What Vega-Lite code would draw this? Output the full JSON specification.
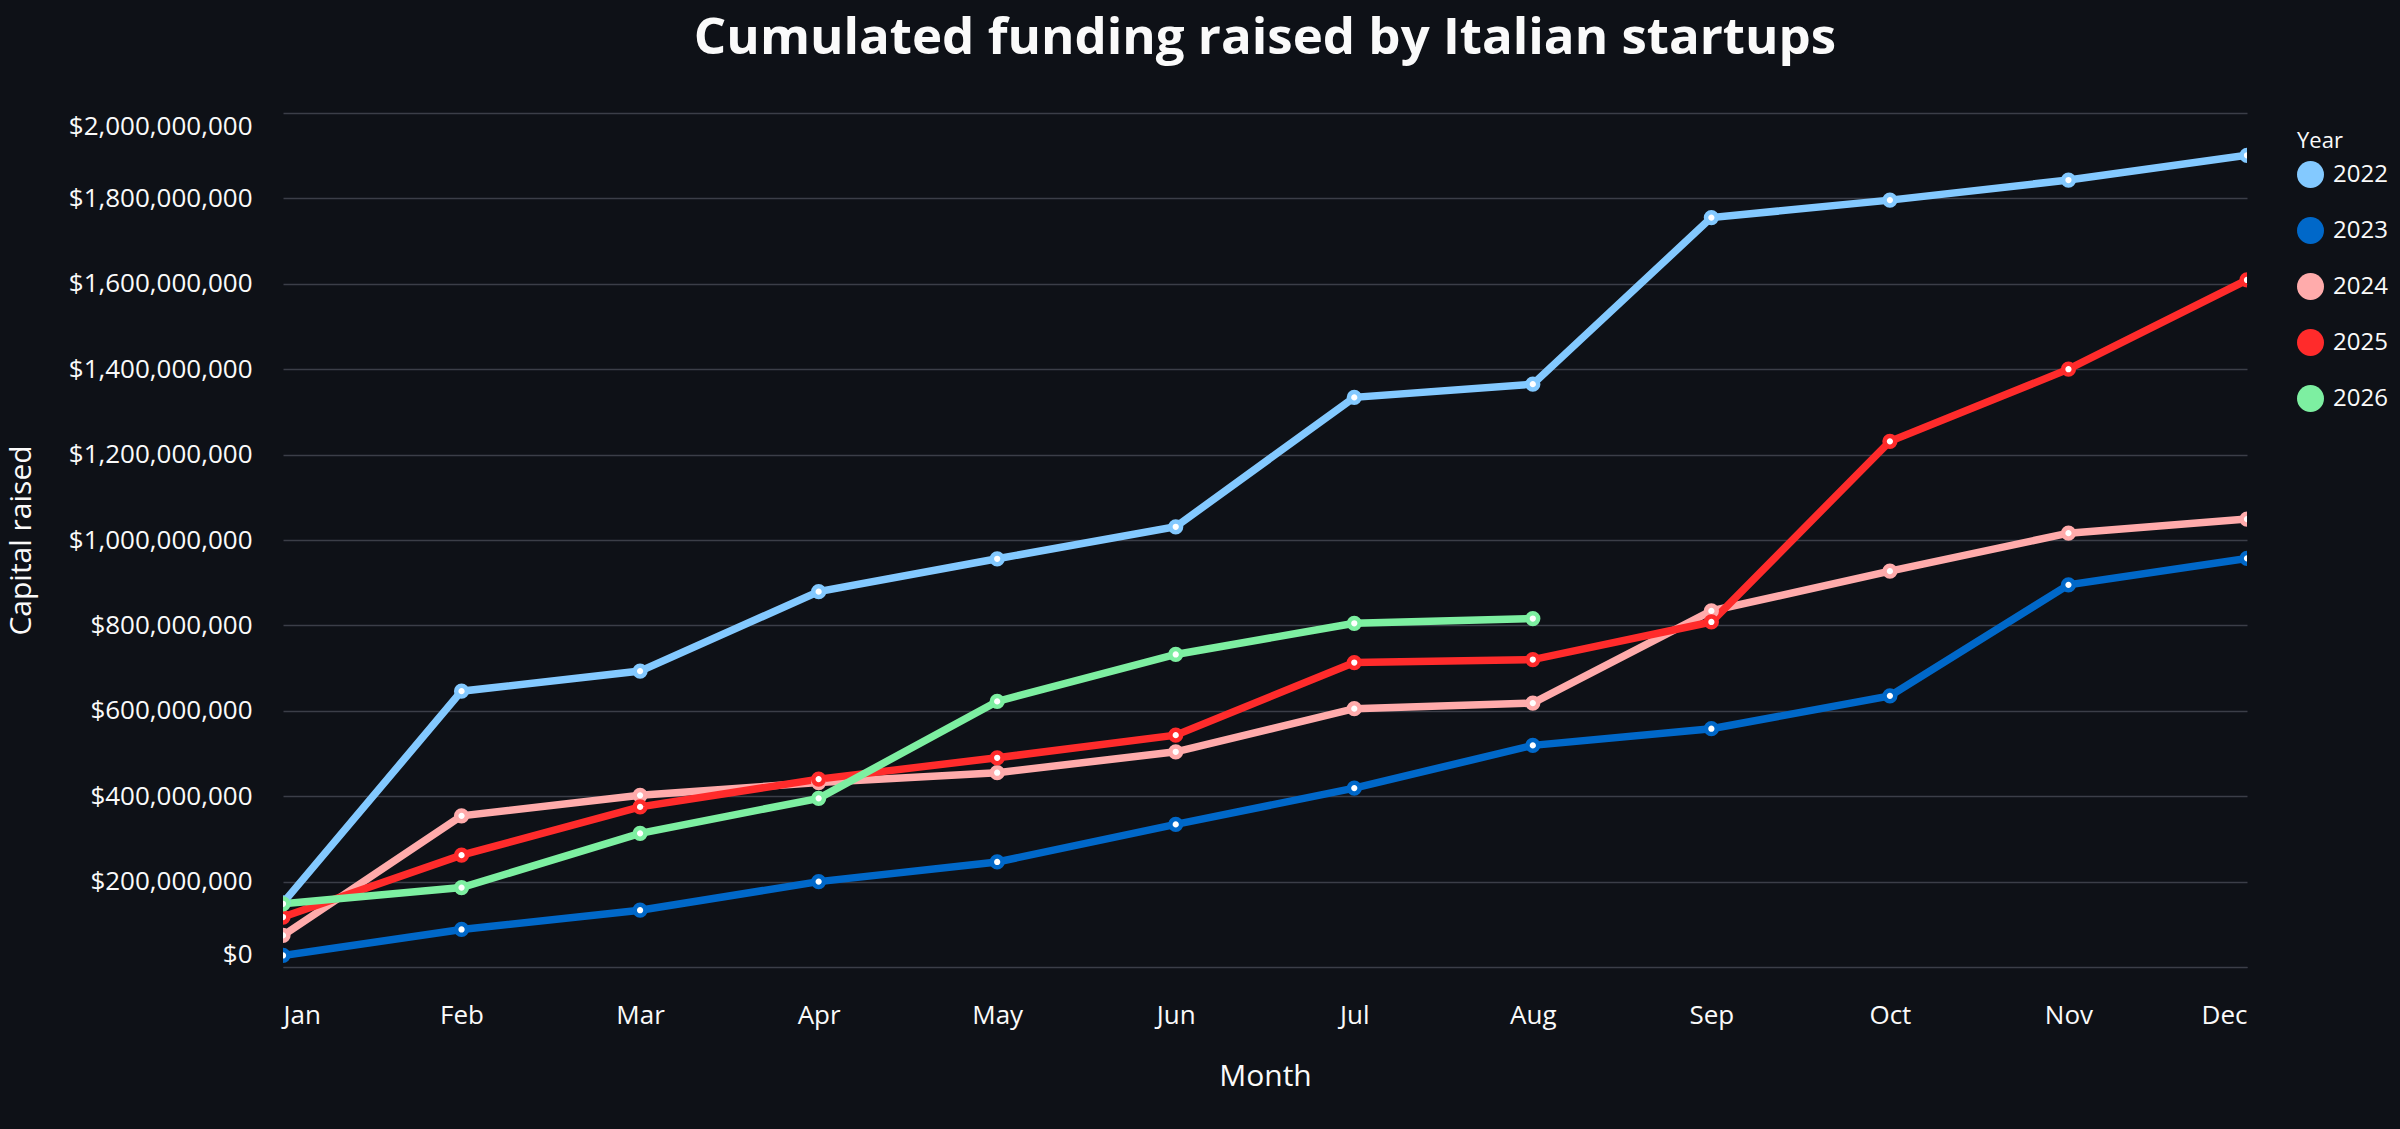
{
  "$schema": "https://vega.github.io/schema/vega-lite/v6.json",
  "autosize": {"type": "none"},
  "padding": {"left": 283, "top": 113, "right": 153, "bottom": 162},
  "width": 1964,
  "height": 854,
  "background": "#0e1117",
  "title": {
    "text": "Cumulated funding raised by Italian startups",
    "font": "Open Sans",
    "fontSize": 51,
    "fontWeight": "bold",
    "color": "#fafafa",
    "anchor": "middle",
    "baseline": "alphabetic",
    "offset": 8
  },
  "data": {
    "values": [
      {"year": "2022", "month": "Jan", "raised": 150000000},
      {"year": "2022", "month": "Feb", "raised": 646000000},
      {"year": "2022", "month": "Mar", "raised": 693000000},
      {"year": "2022", "month": "Apr", "raised": 879000000},
      {"year": "2022", "month": "May", "raised": 956000000},
      {"year": "2022", "month": "Jun", "raised": 1031000000},
      {"year": "2022", "month": "Jul", "raised": 1334000000},
      {"year": "2022", "month": "Aug", "raised": 1365000000},
      {"year": "2022", "month": "Sep", "raised": 1755000000},
      {"year": "2022", "month": "Oct", "raised": 1796000000},
      {"year": "2022", "month": "Nov", "raised": 1843000000},
      {"year": "2022", "month": "Dec", "raised": 1901000000},
      {"year": "2023", "month": "Jan", "raised": 27000000},
      {"year": "2023", "month": "Feb", "raised": 88000000},
      {"year": "2023", "month": "Mar", "raised": 133000000},
      {"year": "2023", "month": "Apr", "raised": 200000000},
      {"year": "2023", "month": "May", "raised": 246000000},
      {"year": "2023", "month": "Jun", "raised": 334000000},
      {"year": "2023", "month": "Jul", "raised": 419000000},
      {"year": "2023", "month": "Aug", "raised": 519000000},
      {"year": "2023", "month": "Sep", "raised": 558000000},
      {"year": "2023", "month": "Oct", "raised": 635000000},
      {"year": "2023", "month": "Nov", "raised": 895000000},
      {"year": "2023", "month": "Dec", "raised": 957000000},
      {"year": "2024", "month": "Jan", "raised": 74000000},
      {"year": "2024", "month": "Feb", "raised": 354000000},
      {"year": "2024", "month": "Mar", "raised": 402000000},
      {"year": "2024", "month": "Apr", "raised": 432000000},
      {"year": "2024", "month": "May", "raised": 455000000},
      {"year": "2024", "month": "Jun", "raised": 504000000},
      {"year": "2024", "month": "Jul", "raised": 605000000},
      {"year": "2024", "month": "Aug", "raised": 618000000},
      {"year": "2024", "month": "Sep", "raised": 834000000},
      {"year": "2024", "month": "Oct", "raised": 927000000},
      {"year": "2024", "month": "Nov", "raised": 1016000000},
      {"year": "2024", "month": "Dec", "raised": 1049000000},
      {"year": "2025", "month": "Jan", "raised": 117000000},
      {"year": "2025", "month": "Feb", "raised": 262000000},
      {"year": "2025", "month": "Mar", "raised": 375000000},
      {"year": "2025", "month": "Apr", "raised": 440000000},
      {"year": "2025", "month": "May", "raised": 490000000},
      {"year": "2025", "month": "Jun", "raised": 543000000},
      {"year": "2025", "month": "Jul", "raised": 713000000},
      {"year": "2025", "month": "Aug", "raised": 720000000},
      {"year": "2025", "month": "Sep", "raised": 808000000},
      {"year": "2025", "month": "Oct", "raised": 1231000000},
      {"year": "2025", "month": "Nov", "raised": 1400000000},
      {"year": "2025", "month": "Dec", "raised": 1609000000},
      {"year": "2026", "month": "Jan", "raised": 148000000},
      {"year": "2026", "month": "Feb", "raised": 186000000},
      {"year": "2026", "month": "Mar", "raised": 313000000},
      {"year": "2026", "month": "Apr", "raised": 395000000},
      {"year": "2026", "month": "May", "raised": 622000000},
      {"year": "2026", "month": "Jun", "raised": 732000000},
      {"year": "2026", "month": "Jul", "raised": 805000000},
      {"year": "2026", "month": "Aug", "raised": 816000000}
    ]
  },
  "encoding": {
    "x": {
      "field": "month",
      "type": "ordinal",
      "sort": ["Jan", "Feb", "Mar", "Apr", "May", "Jun", "Jul", "Aug", "Sep", "Oct", "Nov", "Dec"],
      "scale": {"type": "point", "padding": 0},
      "axis": {
        "title": "Month",
        "labelAngle": 0,
        "labelFlush": true,
        "labelPadding": 35,
        "ticks": false,
        "tickSize": 0,
        "grid": false,
        "domain": true,
        "domainColor": "#3b3e48",
        "titleY": 118,
        "titleBaseline": "alphabetic",
        "titleFontSize": 30
      }
    },
    "y": {
      "field": "raised",
      "type": "quantitative",
      "scale": {"domain": [0, 2000000000]},
      "axis": {
        "title": "Capital raised",
        "format": "$,.0f",
        "tickCount": 10,
        "labelFlush": true,
        "labelPadding": 31,
        "labelLimit": 400,
        "ticks": false,
        "tickSize": 0,
        "domain": false,
        "titleX": -253,
        "titleY": 427,
        "titleAngle": -90,
        "titleAlign": "center",
        "titleBaseline": "alphabetic",
        "titleFontSize": 30
      }
    },
    "color": {
      "field": "year",
      "type": "nominal",
      "scale": {
        "domain": ["2022", "2023", "2024", "2025", "2026"],
        "range": ["#83c9ff", "#0068c9", "#ffabab", "#ff2b2b", "#7defa1"]
      },
      "legend": {
        "title": "Year",
        "orient": "none",
        "legendX": 2014,
        "legendY": 18,
        "padding": 0,
        "symbolType": "circle",
        "symbolSize": 729,
        "titleFontSize": 22,
        "titleFontWeight": "normal",
        "titlePadding": 8,
        "labelFontSize": 24,
        "labelOffset": 9,
        "rowPadding": 29,
        "encode": {
          "symbols": {
            "update": {
              "fill": {"scale": "color", "field": "value"},
              "strokeWidth": {"value": 0},
              "opacity": {"value": 1}
            }
          }
        }
      }
    }
  },
  "layer": [
    {"mark": {"type": "line", "strokeWidth": 7.5, "clip": true}},
    {
      "mark": {
        "type": "point",
        "filled": false,
        "fill": "white",
        "strokeWidth": 4.5,
        "size": 115,
        "opacity": 1,
        "clip": true
      }
    }
  ],
  "config": {
    "view": {"stroke": null},
    "font": "Open Sans",
    "axis": {
      "labelFont": "Open Sans",
      "titleFont": "Open Sans",
      "labelColor": "#fafafa",
      "titleColor": "#fafafa",
      "labelFontSize": 26,
      "titleFontWeight": "normal",
      "gridColor": "#3b3e48",
      "gridWidth": 1.5
    },
    "legend": {
      "labelFont": "Open Sans",
      "titleFont": "Open Sans",
      "labelColor": "#fafafa",
      "titleColor": "#fafafa"
    }
  }
}
